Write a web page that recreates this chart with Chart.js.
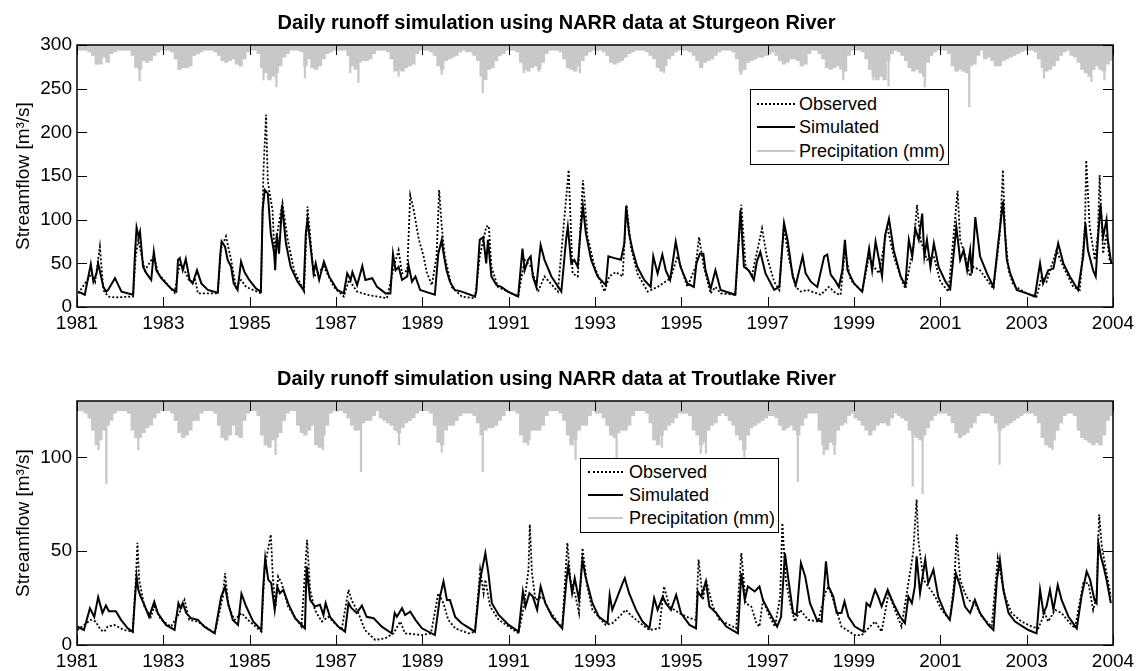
<!DOCTYPE html>
<html><head><meta charset="utf-8">
<script src="https://cdn.jsdelivr.net/npm/chart.js@4.4.1/dist/chart.umd.min.js"></script>
<style>
html,body{margin:0;padding:0;background:#fff;}
body{width:1144px;height:671px;position:relative;overflow:hidden;font-family:"Liberation Sans",Arial,sans-serif;color:#000;}
canvas{position:absolute;left:0;}
#c1{top:0;width:1144px;height:340px;}
#c2{top:340px;width:1144px;height:331px;}
.legend{position:absolute;border:1px solid #000;background:#fff;box-sizing:border-box;}
.legend .row{position:absolute;left:0;right:0;height:22px;font-size:18px;line-height:22px;white-space:nowrap;}
.legend .sample{position:absolute;top:10px;height:0;}
.legend .lbl{position:absolute;top:0;}
</style></head><body>
<canvas id="c1" width="1144" height="340"></canvas>
<canvas id="c2" width="1144" height="331"></canvas>
<div class="legend" id="leg1" style="left:750px;top:89px;width:199px;height:76px"></div>
<div class="legend" id="leg2" style="left:580px;top:458px;width:199px;height:75px"></div>
<script>
// ---------------- DATA ----------------
const START_YEAR = 1981;
const xTickValues = [1981,1983,1985,1987,1989,1991,1993,1995,1997,1999,2001,2003,2005];
const xTickLabels = ["1981","1983","1985","1987","1989","1991","1993","1995","1997","1999","2001","2003","2004"];
const seriesNames = ["Observed","Simulated","Precipitation (mm)"];
const titles = ["Daily runoff simulation using NARR data at Sturgeon River",
                "Daily runoff simulation using NARR data at Troutlake River"];

// Sturgeon River: [years since 1981, m3/s]
const sturgeonSimulated = [[0.03,17.6],[0.18,14],[0.32,49],[0.38,29],[0.45,38],[0.49,50],[0.61,23],[0.68,17.6],[0.72,19.5],[0.88,33],[1.03,17.6],[1.30,14],[1.34,58],[1.38,91],[1.43,80],[1.46,86],[1.53,46],[1.61,38.5],[1.72,31],[1.78,63],[1.84,42],[1.95,33],[2.18,21],[2.30,17.6],[2.34,54],[2.38,56],[2.45,42],[2.52,55],[2.61,31],[2.68,27],[2.78,42],[2.88,27],[3.03,19.5],[3.26,16.4],[3.32,61],[3.35,75],[3.43,69],[3.49,54],[3.57,46],[3.63,27],[3.72,19.5],[3.80,52],[3.88,40],[3.99,31],[4.15,21],[4.26,17.6],[4.30,111],[4.35,134],[4.42,130],[4.49,84],[4.57,61],[4.59,42],[4.63,84],[4.68,61],[4.75,117],[4.84,73],[4.95,46],[5.11,29],[5.25,19.5],[5.30,84],[5.34,100],[5.42,65],[5.48,38.5],[5.53,50],[5.61,31],[5.72,52],[5.84,35],[6.03,19.5],[6.18,15.6],[6.26,38.5],[6.34,31],[6.38,40],[6.49,25],[6.61,47],[6.68,31],[6.84,33],[6.95,23],[7.15,15.6],[7.26,15.6],[7.32,61],[7.38,42],[7.45,46],[7.53,31],[7.65,35],[7.68,48],[7.76,29],[7.84,35],[7.95,19.5],[8.10,17],[8.29,14],[8.37,61],[8.45,77],[8.48,65],[8.56,42],[8.64,29],[8.75,19.5],[8.91,17.6],[9.22,12],[9.25,17.6],[9.33,77],[9.41,80],[9.48,50],[9.52,77],[9.60,35],[9.72,25],[9.83,23],[9.98,17.6],[10.22,12],[10.32,67],[10.37,42],[10.45,54],[10.51,58],[10.56,35],[10.64,23],[10.74,71],[10.83,54],[10.99,35],[11.22,17.6],[11.33,77],[11.37,92],[11.45,50],[11.52,54],[11.60,46],[11.66,84],[11.72,115],[11.79,84],[11.91,54],[12.06,35],[12.25,25],[12.31,58],[12.45,56],[12.60,54],[12.68,73],[12.72,115],[12.79,84],[12.87,65],[12.98,46],[13.14,31],[13.29,23],[13.35,58],[13.45,38.5],[13.56,60],[13.64,42],[13.74,31],[13.87,75],[13.98,46],[14.14,27],[14.29,23],[14.35,50],[14.43,61],[14.51,61],[14.56,42],[14.68,21],[14.79,42],[14.91,19.5],[15.25,14],[15.37,111],[15.45,46],[15.56,42],[15.68,31],[15.75,52],[15.83,63],[15.95,38.5],[16.15,19.5],[16.27,23],[16.38,96],[16.46,77],[16.58,35],[16.65,25],[16.81,58],[16.88,38.5],[17.00,29],[17.15,23],[17.31,58],[17.38,60],[17.46,37],[17.58,29],[17.65,23],[17.73,42],[17.79,77],[17.85,42],[18.00,27],[18.19,17.6],[18.35,67],[18.42,42],[18.50,75],[18.58,54],[18.65,35],[18.72,82],[18.81,101],[18.92,65],[19.08,35],[19.19,25],[19.27,77],[19.35,58],[19.42,90],[19.50,77],[19.58,107],[19.63,58],[19.69,77],[19.77,46],[19.85,73],[19.96,46],[20.12,29],[20.23,21],[20.31,61],[20.37,92],[20.46,54],[20.54,65],[20.62,42],[20.69,65],[20.73,38.5],[20.81,103],[20.92,58],[21.08,38.5],[21.23,23],[21.35,77],[21.45,121],[21.54,54],[21.62,38.5],[21.77,19.5],[22.00,15.6],[22.19,12],[22.31,50],[22.38,27],[22.50,42],[22.62,44],[22.73,73],[22.85,50],[23.00,35],[23.19,19.5],[23.31,58],[23.36,96],[23.42,65],[23.54,42],[23.60,35],[23.65,77],[23.71,117],[23.77,80],[23.85,100],[23.88,77],[23.96,50]];

const sturgeonObserved = [[0.03,15.6],[0.34,38.5],[0.42,29],[0.53,69],[0.61,19.5],[0.72,12],[0.88,11],[1.30,12],[1.36,58],[1.42,77],[1.47,65],[1.57,42],[1.78,58],[1.88,38.5],[2.26,16.4],[2.38,50],[2.49,42],[2.61,29],[2.74,31],[2.80,15.6],[3.26,15.6],[3.34,67],[3.45,81],[3.57,54],[3.68,23],[3.80,31],[3.92,23],[4.26,15.6],[4.32,157],[4.38,220],[4.42,145],[4.45,134],[4.53,111],[4.57,65],[4.65,88],[4.76,119],[4.88,77],[5.03,42],[5.26,17.6],[5.34,115],[5.43,65],[5.49,35],[5.72,46],[5.95,23],[6.18,12],[6.30,31],[6.49,17.6],[6.72,14],[7.18,10],[7.34,46],[7.45,65],[7.53,38.5],[7.65,42],[7.72,128],[7.80,111],[7.92,77],[8.03,58],[8.10,40],[8.22,25],[8.33,58],[8.39,134],[8.45,92],[8.52,58],[8.68,23],[8.91,12],[9.22,10],[9.33,58],[9.48,92],[9.54,93],[9.60,46],[9.75,23],[10.22,12],[10.37,54],[10.52,46],[10.68,17.6],[10.83,35],[11.14,17.6],[11.39,157],[11.48,38.5],[11.60,35],[11.72,145],[11.83,80],[11.99,46],[12.22,17.6],[12.33,35],[12.48,40],[12.64,35],[12.73,117],[12.83,69],[12.98,38.5],[13.22,17.6],[13.45,23],[13.75,33],[13.91,58],[14.14,23],[14.33,46],[14.41,80],[14.52,46],[14.68,15.6],[14.79,23],[14.91,15.6],[15.25,14],[15.39,117],[15.49,46],[15.64,37],[15.87,90],[15.98,58],[16.15,29],[16.27,19.5],[16.37,92],[16.50,54],[16.65,23],[16.77,17.6],[16.92,19.5],[17.23,14],[17.42,23],[17.58,15.6],[17.69,14],[17.79,65],[17.92,31],[18.19,17.6],[18.35,58],[18.46,46],[18.58,38.5],[18.77,92],[18.92,58],[19.12,29],[19.19,21],[19.38,69],[19.46,117],[19.54,77],[19.69,54],[19.85,58],[20.00,29],[20.19,17.6],[20.40,133],[20.46,77],[20.58,58],[20.69,35],[20.77,46],[20.92,42],[21.23,21],[21.38,84],[21.45,157],[21.50,84],[21.58,42],[21.69,25],[22.00,15.6],[22.23,12],[22.35,35],[22.46,29],[22.69,65],[22.85,46],[23.08,23],[23.23,19.5],[23.35,92],[23.38,168],[23.46,92],[23.58,54],[23.65,84],[23.69,151],[23.77,61],[23.85,84],[23.92,54],[23.96,50]];

// Sturgeon River precipitation (mm): monthly band depth Jan..Dec 1981..2004, plus single-day spikes
const sturgeonPrecipMonthly = [
3,3,3,4,6,11,11,7,10,5,4,3, 3,3,3,6,13,14,9,10,9,6,4,3, 3,3,4,8,14,13,13,12,6,5,4,3, 3,3,4,6,9,10,9,8,11,12,8,4,
3,3,5,13,16,20,18,16,12,7,5,3, 3,3,4,12,8,13,14,12,8,5,4,3, 3,3,3,6,12,14,10,9,9,8,5,3, 3,3,4,8,15,14,15,13,12,11,5,3,
3,3,4,6,12,14,9,8,7,6,4,3, 4,4,6,9,18,20,14,13,9,6,5,3, 3,3,4,10,14,15,13,12,14,10,5,3, 3,3,4,8,13,14,15,12,9,6,4,3,
3,3,4,6,10,11,10,9,7,5,4,3, 3,3,4,6,8,13,15,12,8,6,4,3, 3,3,4,6,9,13,10,9,8,6,4,3, 3,3,4,8,15,14,10,9,8,7,7,6,
5,4,6,9,11,10,8,8,9,12,11,5, 3,3,5,8,13,14,13,12,14,15,6,3, 3,3,4,8,14,18,20,18,20,9,5,3, 4,6,9,13,15,14,16,18,10,6,4,3,
3,3,5,12,15,14,15,16,12,11,6,3, 8,7,9,12,12,9,8,7,6,5,4,3, 3,3,4,8,13,15,14,12,9,6,4,3, 6,7,10,14,16,18,14,12,14,15,11,9];
const sturgeonPrecipSpikes = [[1.45,20.6],[4.32,20],[4.62,24],[5.28,19],[6.33,16],[6.52,21.5],[7.45,18],[8.45,17],[9.40,27.5],[10.35,16],[10.70,15],[11.65,16],[13.60,16],[15.38,17],[17.75,20],[18.45,20],[18.80,23.5],[19.64,24],[20.67,35.5],[22.40,19],[23.50,21],[23.80,20]];

// Troutlake River
const troutSimulated = [[0.01,9.8],[0.16,8],[0.30,19.6],[0.40,15],[0.49,25.5],[0.59,17],[0.67,21],[0.74,18],[0.90,18],[1.02,13.4],[1.17,9],[1.29,7],[1.34,24],[1.38,36.5],[1.42,29.4],[1.47,26],[1.56,21.4],[1.67,15],[1.79,23],[1.87,17],[2.06,10.7],[2.26,8],[2.35,22.3],[2.40,19.6],[2.45,22.3],[2.53,17],[2.64,14.3],[2.80,13.4],[2.95,9.8],[3.19,6.2],[3.34,25.8],[3.43,31],[3.50,22.3],[3.61,13.4],[3.73,10.7],[3.81,27.3],[3.92,20.5],[4.08,12.5],[4.27,8],[4.31,29.4],[4.36,46.3],[4.43,34.8],[4.50,33],[4.58,18.7],[4.64,31],[4.70,27.6],[4.78,29.4],[4.89,22.3],[5.05,14.3],[5.28,8.9],[5.32,41.9],[5.40,24],[5.51,20.5],[5.63,21.4],[5.71,16],[5.76,22.3],[5.86,15],[6.05,9.8],[6.21,7.1],[6.29,22.3],[6.36,19.6],[6.48,17],[6.60,21],[6.71,15],[6.87,14.3],[7.06,9.8],[7.29,6.2],[7.36,17],[7.41,15],[7.53,19.6],[7.60,16],[7.72,17.8],[7.84,13.4],[7.99,8.9],[8.29,5.3],[8.41,25.8],[8.49,33.9],[8.57,24],[8.64,24],[8.76,15],[8.91,11.6],[9.22,7.1],[9.34,34.8],[9.46,49],[9.53,38.3],[9.61,22.3],[9.77,16],[10.00,10.7],[10.23,7.1],[10.33,28.5],[10.39,20.5],[10.48,27.6],[10.56,25.8],[10.66,18.7],[10.74,31.2],[10.85,22.3],[11.01,15],[11.24,8.9],[11.34,34.8],[11.38,41.9],[11.47,27.6],[11.53,35.6],[11.63,24],[11.71,45.5],[11.78,36.5],[11.94,22.3],[12.09,15],[12.29,11.6],[12.34,26.7],[12.40,18.7],[12.52,25.8],[12.64,33],[12.69,35.6],[12.79,27.6],[12.95,18.7],[13.10,12.5],[13.26,8.9],[13.37,25],[13.45,18.7],[13.57,25.8],[13.64,22.3],[13.76,18.7],[13.88,26.7],[13.99,17],[14.19,10.7],[14.34,8.9],[14.38,28.5],[14.46,25.8],[14.57,33.9],[14.65,20.5],[14.81,17],[15.04,9.8],[15.31,6.2],[15.39,38.3],[15.47,24],[15.54,31.2],[15.70,28.5],[15.81,31.2],[15.89,24],[16.05,17],[16.22,9.8],[16.31,15],[16.40,49],[16.48,34.8],[16.59,17],[16.67,16],[16.77,43.7],[16.87,36.5],[16.98,22.3],[17.14,13.4],[17.25,12.5],[17.35,44.6],[17.41,31.2],[17.52,25.8],[17.60,17],[17.71,17],[17.78,23.2],[17.87,15],[18.02,9.8],[18.22,7.1],[18.29,22.3],[18.37,20.5],[18.49,29.4],[18.56,25.8],[18.64,20.5],[18.78,29.4],[18.91,22.3],[19.07,15],[19.18,11.6],[19.26,25.8],[19.34,22.3],[19.41,31.2],[19.45,47.2],[19.53,27.6],[19.65,45.5],[19.72,33],[19.84,40.1],[19.95,25.8],[20.11,17],[20.22,13.4],[20.30,25.8],[20.36,38.3],[20.46,31.2],[20.57,20.5],[20.69,17],[20.80,24],[20.92,17],[21.11,10.7],[21.23,8],[21.31,34.8],[21.38,45.5],[21.46,29.4],[21.58,17],[21.73,12.5],[22.04,8],[22.23,6.2],[22.31,29.4],[22.39,17],[22.46,20.5],[22.54,29.4],[22.62,18.7],[22.72,32],[22.81,24],[22.97,15],[23.16,8.9],[23.27,25.8],[23.39,39.2],[23.47,34.8],[23.57,24],[23.62,22.3],[23.66,54.4],[23.72,47.2],[23.78,41.9],[23.85,34.8],[23.95,22.3]];

const troutObserved = [[0.01,8],[0.32,13.4],[0.43,12.5],[0.55,8],[0.63,7.1],[0.71,9.8],[0.86,10.7],[1.09,8],[1.29,7.1],[1.36,33],[1.40,54.4],[1.44,34.8],[1.56,20.5],[1.71,15],[1.79,20.5],[1.95,13.4],[2.18,9.8],[2.37,17],[2.49,24],[2.60,13.4],[2.80,12.5],[3.19,6.2],[3.38,25.8],[3.43,38.3],[3.51,20.5],[3.65,13.4],[3.81,17],[3.96,13.4],[4.27,7.1],[4.35,41.9],[4.49,58.8],[4.54,34.8],[4.60,20.5],[4.66,36.5],[4.74,33],[4.89,20.5],[5.20,9.8],[5.33,56],[5.40,29.4],[5.51,18.7],[5.67,12.5],[5.82,15],[6.13,8],[6.29,29.4],[6.36,24],[6.52,17],[6.67,8],[6.91,2.7],[7.14,3.6],[7.33,6.2],[7.49,12.5],[7.60,6.2],[7.99,5.3],[8.20,6.2],[8.37,27.6],[8.49,22.3],[8.60,13.4],[8.76,8.9],[9.07,6.2],[9.22,7.1],[9.34,40.1],[9.42,27.6],[9.46,34.8],[9.57,20.5],[9.77,13.4],[10.23,6.2],[10.35,20.5],[10.46,40.1],[10.49,64.2],[10.54,38.3],[10.62,24],[10.78,25.8],[10.93,18.7],[11.24,8.9],[11.36,54.4],[11.43,34.8],[11.55,25.8],[11.63,17],[11.71,51.7],[11.82,31.2],[11.94,18.7],[12.25,10.7],[12.40,11.6],[12.56,15],[12.71,18.7],[12.87,15],[13.10,10.7],[13.26,8],[13.49,8.9],[13.60,31.2],[13.72,20.5],[13.95,17],[14.19,14.3],[14.34,13.4],[14.40,45.5],[14.50,24],[14.57,34.8],[14.73,20.5],[14.88,13.4],[15.27,8.9],[15.39,49],[15.49,22.3],[15.62,20.5],[15.74,11.6],[15.81,9.8],[15.89,24],[16.05,15],[16.17,9.8],[16.29,25.8],[16.34,65],[16.42,34.8],[16.52,22.3],[16.63,12.5],[16.75,18.7],[16.94,13.4],[17.17,12.5],[17.33,27.6],[17.41,31.2],[17.52,24],[17.71,9.8],[17.83,8],[18.02,5.3],[18.18,5.3],[18.37,9.8],[18.49,12.5],[18.64,7.1],[18.80,27.6],[18.95,18.7],[19.10,9.8],[19.37,49],[19.45,77.5],[19.49,56],[19.61,34.8],[19.72,31.2],[19.88,25.8],[20.03,18.7],[20.22,13.4],[20.32,33],[20.38,58.8],[20.46,34.8],[20.57,27.6],[20.65,24],[20.80,22.3],[20.96,15],[21.19,9.8],[21.33,46.3],[21.42,34.8],[21.50,25.8],[21.65,17],[21.88,12.5],[22.12,9.8],[22.27,8.9],[22.42,17],[22.50,12.5],[22.66,18.7],[22.81,17],[22.97,12.5],[23.12,8.9],[23.31,33],[23.43,33],[23.54,18.7],[23.62,25.8],[23.68,69.5],[23.74,52.6],[23.85,38.3],[23.95,25.8]];

const troutPrecipMonthly = [
4,4,5,7,12,18,16,12,10,8,5,4, 4,4,5,12,15,15,13,11,10,7,5,4, 4,4,5,8,13,15,14,12,8,8,5,4, 4,4,5,10,15,16,14,10,14,15,8,5,
4,4,6,14,18,19,16,15,13,8,5,4, 4,10,13,14,12,10,18,19,14,10,5,4, 4,4,5,7,10,12,12,9,8,8,6,4, 7,8,9,10,12,13,11,9,8,7,5,4,
4,4,5,10,17,18,12,10,10,8,6,5, 5,5,6,9,14,12,11,11,10,8,6,4, 4,4,5,14,17,16,12,12,12,10,6,4, 4,4,5,8,14,18,16,12,10,10,6,4,
5,5,7,10,14,15,13,12,12,10,6,4, 4,4,5,9,16,18,14,12,10,9,7,5, 5,5,6,12,14,18,17,12,10,9,6,5, 6,8,10,14,16,20,14,11,10,9,8,7,
6,6,7,10,12,11,10,12,14,10,7,5, 5,5,12,18,20,17,18,12,10,9,6,5, 7,8,10,12,14,12,10,9,9,10,7,5, 6,7,8,12,14,15,16,14,11,8,6,5,
5,5,6,9,13,15,14,13,11,9,6,5, 5,5,6,9,12,11,10,9,8,7,6,5, 5,5,6,9,15,18,19,16,12,9,6,5, 5,6,12,15,16,17,18,17,18,14,8,6];
const troutPrecipSpikes = [[0.50,20],[0.68,34],[1.42,20],[3.45,16],[4.60,22],[5.70,20],[6.58,29],[7.46,18],[8.45,21],[9.40,29],[10.45,18],[11.55,24],[12.50,24],[13.55,19],[14.45,21.5],[14.57,21.5],[15.46,23],[16.70,33],[17.30,22],[17.55,22],[19.36,35],[19.59,38],[21.37,26],[22.60,20],[23.70,18]];

// ---------------- CHART ----------------
const FONT = "'Liberation Sans', Arial, sans-serif";
Chart.defaults.font.family = FONT;
Chart.defaults.color = '#000';
const PRECIP_GREY = 'rgb(200,200,200)';

const toXY = arr => arr.map(p => ({x: START_YEAR + p[0], y: p[1]}));
const monthly = arr => arr.map((v,i) => ({x: START_YEAR + (i + 0.5)/12, y: v}));

const frameTicks = {
  id: 'frameTicks',
  afterDatasetsDraw(chart) {
    const {ctx, chartArea: a, scales: {x, y}} = chart;
    const L = 10;
    ctx.save();
    ctx.strokeStyle = '#000';
    ctx.lineWidth = 1;
    const seg = (x1,y1,x2,y2) => { ctx.beginPath(); ctx.moveTo(x1,y1); ctx.lineTo(x2,y2); ctx.stroke(); };
    x.ticks.forEach(t => { const p = Math.round(x.getPixelForValue(t.value)) + 0.5; seg(p, a.bottom, p, a.bottom - L); seg(p, a.top, p, a.top + L); });
    y.ticks.forEach(t => { const p = Math.round(y.getPixelForValue(t.value)) + 0.5; seg(a.left, p, a.left + L, p); seg(a.right, p, a.right - L, p); });
    ctx.lineWidth = 1.5;
    ctx.strokeRect(a.left, a.top, a.right - a.left, a.bottom - a.top);
    ctx.restore();
  }
};

function makePanel(id, cfg) {
  return new Chart(document.getElementById(id), {
    type: 'line',
    data: {
      datasets: [
        {label: seriesNames[0], data: toXY(cfg.obs), borderColor: '#000', borderWidth: 1.8, borderDash: [2,2], pointRadius: 0, yAxisID: 'y', order: 1, tension: 0},
        {label: seriesNames[1], data: toXY(cfg.sim), borderColor: '#000', borderWidth: 2, pointRadius: 0, yAxisID: 'y', order: 2, tension: 0},
        {type: 'bar', label: seriesNames[2], data: monthly(cfg.pm), backgroundColor: PRECIP_GREY, borderWidth: 0, barThickness: 3.8, grouped: false, yAxisID: 'yp', order: 6},
        {type: 'bar', label: seriesNames[2] + ' peaks', data: toXY(cfg.ps), backgroundColor: PRECIP_GREY, borderWidth: 0, barThickness: 1.6, grouped: false, yAxisID: 'yp', order: 5}
      ]
    },
    options: {
      responsive: false, animation: false, devicePixelRatio: 1,
      layout: {padding: {left: 0, right: 31, top: 0, bottom: 0}},
      plugins: {
        legend: {display: false}, tooltip: {enabled: false},
        title: {display: true, text: cfg.title, font: {size: 20, weight: 'bold', family: FONT}, color: '#000',
                padding: {top: cfg.titleTop, bottom: cfg.titleBottom}}
      },
      scales: {
        x: {type: 'linear', min: 1981, max: 2005, offset: false,
            grid: {display: false, drawTicks: false}, border: {display: false},
            afterBuildTicks: s => { s.ticks = xTickValues.map(v => ({value: v})); },
            afterFit: s => { s.height = cfg.xAxisH; },
            ticks: {autoSkip: false, maxRotation: 0, padding: 5, font: {size: 19}, color: '#000',
                    callback: (v, i) => xTickLabels[i]}},
        y: {type: 'linear', min: 0, max: cfg.ymax, position: 'left',
            grid: {display: false, drawTicks: false}, border: {display: false},
            afterFit: s => { s.width = 77; },
            afterBuildTicks: s => { s.ticks = cfg.yTicks.map(v => ({value: v})); },
            ticks: {padding: 5, font: {size: 19}, color: '#000'},
            title: {display: true, text: 'Streamflow [m³/s]', font: {size: 19}, color: '#000', padding: {top: 12, bottom: 0}}},
        yp: {type: 'linear', reverse: true, min: 0, max: cfg.pmax, display: false}
      }
    },
    plugins: [frameTicks]
  });
}

makePanel('c1', {obs: sturgeonObserved, sim: sturgeonSimulated, pm: sturgeonPrecipMonthly, ps: sturgeonPrecipSpikes,
  title: titles[0], titleTop: 11, titleBottom: 10, xAxisH: 33, ymax: 300, yTicks: [0,50,100,150,200,250,300], pmax: 150});
makePanel('c2', {obs: troutObserved, sim: troutSimulated, pm: troutPrecipMonthly, ps: troutPrecipSpikes,
  title: titles[1], titleTop: 27, titleBottom: 10, xAxisH: 26, ymax: 130, yTicks: [0,50,100], pmax: 100});

// ---------------- LEGENDS (HTML) ----------------
function buildLegend(el, rows, sampleLeft, sampleW, labelLeft) {
  const styles = ['2px dotted #000', '2px solid #000', '2px solid ' + PRECIP_GREY];
  rows.forEach((top, i) => {
    const r = document.createElement('div'); r.className = 'row'; r.style.top = top + 'px';
    const s = document.createElement('div'); s.className = 'sample';
    s.style.left = sampleLeft + 'px'; s.style.width = sampleW + 'px'; s.style.borderTop = styles[i];
    const l = document.createElement('span'); l.className = 'lbl'; l.style.left = labelLeft + 'px'; l.textContent = seriesNames[i];
    r.appendChild(s); r.appendChild(l); el.appendChild(r);
  });
}
buildLegend(document.getElementById('leg1'), [3, 26, 50], 6, 38, 48);
buildLegend(document.getElementById('leg2'), [2, 25, 48], 7, 35, 48);
</script>
</body></html>
